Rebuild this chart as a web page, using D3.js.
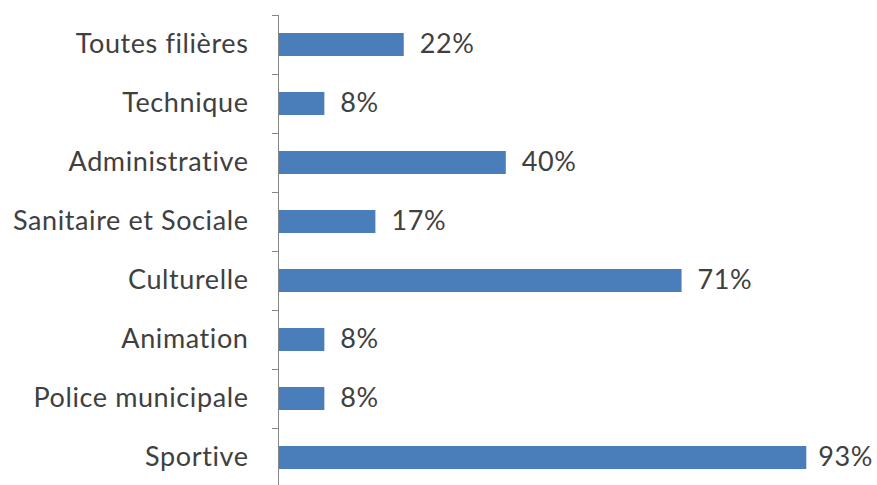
<!DOCTYPE html>
<html>
<head>
<meta charset="utf-8">
<script src="https://cdn.jsdelivr.net/npm/d3@7"></script>
<style>
  html, body { margin: 0; padding: 0; background: #ffffff; }
  svg { display: block; }
</style>
</head>
<body>
<div id="chart"></div>
<script>
// Part de chaque filière (en %)
const categories = [
  "Toutes filières",
  "Technique",
  "Administrative",
  "Sanitaire et Sociale",
  "Culturelle",
  "Animation",
  "Police municipale",
  "Sportive"
];
const values = [22, 8, 40, 17, 71, 8, 8, 93];
const valueLabels = ["22%", "8%", "40%", "17%", "71%", "8%", "8%", "93%"];

const width = 877, height = 485;
const axisX = 279, plotTop = 15, step = 59;
const plotRight = 846;

const svg = d3.select("#chart").append("svg")
  .attr("width", width).attr("height", height);

const x = d3.scaleLinear().domain([0, 100]).range([axisX, plotRight]);
const y = d3.scaleBand()
  .domain(categories)
  .range([plotTop, plotTop + step * categories.length])
  .paddingInner(0.61).paddingOuter(0.305);

const font = "Lato, 'Open Sans', sans-serif";
const fontSize = 27;
const spacing = 0.6;
const textColor = "#404040";

// Barres
svg.append("g").selectAll("rect")
  .data(categories)
  .join("rect")
  .attr("x", x(0))
  .attr("y", d => y(d))
  .attr("width", (d, i) => x(values[i]) - x(0))
  .attr("height", y.bandwidth())
  .attr("fill", "#4a7ebb");

// Étiquettes de valeur (repoussées vers la gauche si elles débordent)
svg.append("g").selectAll("text")
  .data(categories)
  .join("text")
  .attr("y", d => y(d) + y.bandwidth() / 2)
  .attr("dy", "0.32em")
  .attr("font-family", font)
  .attr("font-size", fontSize)
  .attr("letter-spacing", spacing)
  .attr("fill", textColor)
  .text((d, i) => valueLabels[i])
  .attr("x", function (d, i) {
    const w = this.getComputedTextLength();
    return Math.min(x(values[i]) + 16, width - 4 - w);
  });

// Axe des catégories
const axis = d3.axisLeft(y).tickSize(0).tickPadding(30);
const gAxis = svg.append("g")
  .attr("transform", `translate(${axisX - 0.5},0)`)
  .call(axis);
gAxis.select(".domain").remove();
gAxis.selectAll("text")
  .attr("dy", "0.32em")
  .attr("font-family", font)
  .attr("font-size", fontSize)
  .attr("letter-spacing", spacing)
  .attr("fill", textColor);

// Ligne d'axe et graduations entre catégories
const boundaries = d3.range(categories.length + 1).map(i => plotTop + i * step);
svg.append("line")
  .attr("x1", axisX - 0.5).attr("x2", axisX - 0.5)
  .attr("y1", plotTop).attr("y2", boundaries[boundaries.length - 1])
  .attr("stroke", "#868686").attr("stroke-width", 1);
svg.append("g").selectAll("line")
  .data(boundaries)
  .join("line")
  .attr("x1", axisX - 7).attr("x2", axisX - 0.5)
  .attr("y1", d => Math.round(d) + 0.5).attr("y2", d => Math.round(d) + 0.5)
  .attr("stroke", "#868686").attr("stroke-width", 1);
</script>
</body>
</html>
